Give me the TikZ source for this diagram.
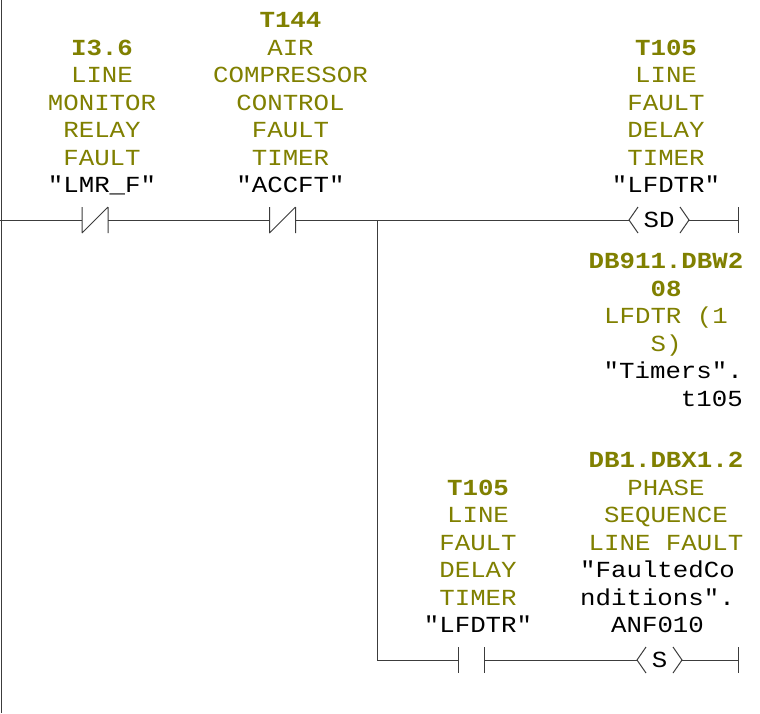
\documentclass[tikz,border=0pt]{standalone}
\usepackage{fontspec}
\newfontfamily\plcfont{Liberation Mono}[FakeStretch=1.12]
\definecolor{olivetext}{RGB}{128,128,0}
\definecolor{wirecol}{RGB}{60,60,60}
\lineskiplimit=-50pt
\tikzset{
  wire/.style={draw=wirecol, line width=1pt},
  lbl/.style={font=\plcfont\fontsize{23}{27.5}\selectfont,
    text=olivetext, align=center, inner sep=0pt, text depth=0pt, anchor=south},
  lblr/.style={lbl, align=right, anchor=south east},
  coiltext/.style={font=\plcfont\fontsize{23}{27.5}\selectfont, text=black, inner sep=0pt},
  pics/nccontact/.style={code={
    \draw[wire] (-13,-13) -- (-13,13) (13,-13) -- (13,13) (-13,13) -- (13,-13);
    \coordinate (-l) at (-13,0); \coordinate (-r) at (13,0);}},
  pics/nocontact/.style={code={
    \draw[wire] (-13,-13) -- (-13,13) (13,-13) -- (13,13);
    \coordinate (-l) at (-13,0); \coordinate (-r) at (13,0);}},
  pics/coil/.style 2 args={code={
    \node[coiltext] (-t) at (0,0) {#1};
    \draw[wire] (-#2+9,-13) -- (-#2,0) -- (-#2+9,13) (#2-9,-13) -- (#2,0) -- (#2-9,13);
    \coordinate (-l) at (-#2,0); \coordinate (-r) at (#2,0);}},
}
\newcommand{\blk}[1]{\textcolor{black}{#1}}
\begin{document}
\begin{tikzpicture}[x=1pt,y=-1pt]
\useasboundingbox[fill=white] (0,0) rectangle (760,713);

% left power rail
\coordinate (railtop) at (1.5,0);
\coordinate (railbot) at (1.5,713);
\draw[wire] (railtop) -- (railbot);

% labels
\node[lbl] (lA) at (102,193) {\textbf{I3.6}\\LINE\\MONITOR\\RELAY\\FAULT\\\blk{"LMR\_F"}};
\node[lbl] (lB) at (290.5,193) {\textbf{T144}\\AIR\\COMPRESSOR\\CONTROL\\FAULT\\TIMER\\\blk{"ACCFT"}};
\node[lbl] (lC) at (666,193) {\textbf{T105}\\LINE\\FAULT\\DELAY\\TIMER\\\blk{"LFDTR"}};
\node[lbl] (lD) at (666,351.5) {\textbf{DB911.DBW2}\\\textbf{08}\\LFDTR (1\\S)};
\node[lblr] (lE) at (743,406.5) {\blk{"Timers".}\\\blk{t105}};
\node[lbl] (lF) at (666,550.5) {\textbf{DB1.DBX1.2}\\PHASE\\SEQUENCE\\LINE FAULT};
\node[lbl] (lG) at (657.5,633) {\blk{"FaultedCo}\\\blk{nditions".}\\\blk{ANF010}};
\node[lbl] (lH) at (478,633) {\textbf{T105}\\LINE\\FAULT\\DELAY\\TIMER\\\blk{"LFDTR"}};

% elements
\coordinate (r1) at (0,220);
\pic (c1) at (95,220) {nccontact};
\pic (c2) at (282.5,220) {nccontact};
\coordinate (br) at (377,220);
\pic (k1) at (659,220) {coil={SD}{30}};
\coordinate (e1) at (738,220);
\pic (c3) at (471,660) {nocontact};
\pic (k2) at (659.5,660) {coil={S}{22.5}};
\coordinate (e2) at (738,660);

% wires
\draw[wire] (r1) -- (c1-l);
\draw[wire] (c1-r) -- (c2-l);
\draw[wire] (c2-r) -- (k1-l);
\draw[wire] (k1-r) -- (e1);
\draw[wire] (br) -- (br |- c3-l) -- (c3-l);
\draw[wire] (c3-r) -- (k2-l);
\draw[wire] (k2-r) -- (e2);
\draw[wire] (e1) ++(0,-13) -- ++(0,26);
\draw[wire] (e2) ++(0,-13) -- ++(0,26);
\end{tikzpicture}
\end{document}
